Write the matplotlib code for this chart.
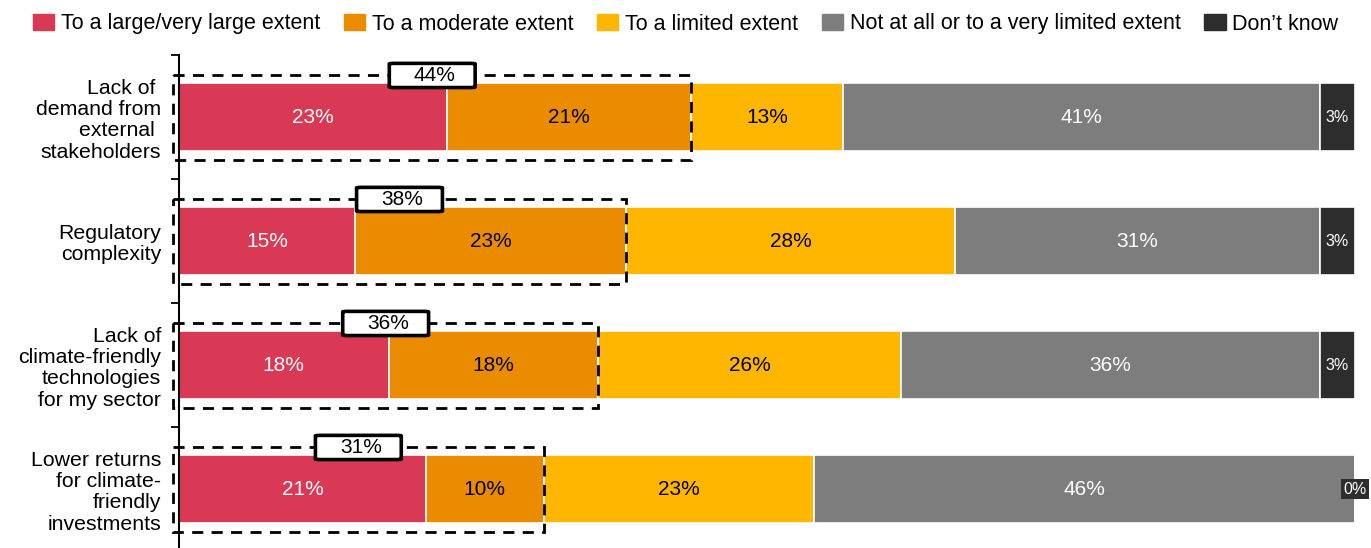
import matplotlib
matplotlib.use('Agg')
import matplotlib.pyplot as plt
from matplotlib.patches import Patch, Rectangle, FancyBboxPatch
import numpy as np

####################
# Data

categories = ['Lack of \ndemand from\nexternal \nstakeholders',
              'Regulatory\ncomplexity',
              'Lack of\nclimate-friendly\ntechnologies\nfor my sector',
              'Lower returns\nfor climate-\nfriendly\ninvestments']
series = ['To a large/very large extent', 'To a moderate extent',
          'To a limited extent', 'Not at all or to a very limited extent',
          'Don\u2019t know']
large    = [23, 15, 18, 21]
moderate = [21, 23, 18, 10]
limited  = [13, 28, 26, 23]
notatall = [41, 31, 36, 46]
dontknow = [3, 3, 3, 0]
combined = [44, 38, 36, 31]

colors = ['#D93954', '#EB8C00', '#FFB600', '#7D7D7D', '#2D2D2D']
txtcol = ['white', 'black', 'black', 'white', 'white']

plt.rcParams['font.family'] = ['Liberation Sans', 'DejaVu Sans']

####################
# Plot

W, H = 1371, 548
fig = plt.figure(figsize=(W / 100, H / 100), dpi=100)
ax = fig.add_axes([179 / W, 0, 1176 / W, 493 / H])

vals = np.array([large, moderate, limited, notatall, dontknow], dtype=float)
totals = vals.sum(axis=0)
shares = vals / totals * 100
y = np.arange(len(categories))

left = np.zeros(len(categories))
for i in range(len(series)):
    ax.barh(y, shares[i], left=left, height=0.55, color=colors[i],
            edgecolor='white', linewidth=1.2, label=series[i])
    for j in range(len(categories)):
        v = int(vals[i, j])
        cx = left[j] + shares[i, j] / 2
        if i < 4:
            ax.text(cx, y[j], '%d%%' % v, ha='center', va='center',
                    color=txtcol[i], fontsize=15)
        elif v > 0:
            ax.text(cx, y[j], '%d%%' % v, ha='center', va='center',
                    color='white', fontsize=11.5)
        else:
            ax.text(left[j] + shares[i, j], y[j], '%d%%' % v, ha='center',
                    va='center', color='white', fontsize=11.5, clip_on=False,
                    bbox=dict(boxstyle='square,pad=0.15', fc=colors[i], ec='none'))
    left += shares[i]

# dashed boxes round the first two segments + combined label
for j in range(len(categories)):
    x0 = -0.5
    x1 = shares[0, j] + shares[1, j]
    ax.add_patch(Rectangle((x0, y[j] - 0.335), x1 - x0, 0.685, fill=False,
                           ec='black', lw=2, ls=(0, (4, 3)), clip_on=False,
                           zorder=4))
    cx = (x0 + x1) / 2
    bw, bh = 7.3, 0.195
    ax.add_patch(FancyBboxPatch((cx - bw / 2, y[j] - 0.335 - bh / 2), bw, bh,
                                boxstyle='round,pad=0,rounding_size=0.45',
                                mutation_aspect=0.01,
                                fc='white', ec='black', lw=2.6, zorder=5,
                                clip_on=False))
    ax.text(cx + 0.2, y[j] - 0.335, '%d%%' % combined[j], ha='center',
            va='center', fontsize=15, zorder=6)

ax.set_xlim(0, 100)
ax.set_ylim(-0.5 + 493 / 124, -0.5)
ax.set_yticks(y)
ax.set_yticklabels(categories, fontsize=15.3, linespacing=1.15)
ax.set_yticks(np.arange(len(categories)) - 0.5, minor=True)
ax.tick_params(axis='y', which='major', length=0, pad=13)
ax.tick_params(axis='y', which='minor', length=6, width=1.3, direction='out')
ax.set_xticks([])
for s in ['top', 'right', 'bottom']:
    ax.spines[s].set_visible(False)
ax.spines['left'].set_linewidth(1.5)

handles = [Patch(color=c) for c in colors]
fig.legend(handles, series, loc='center', bbox_to_anchor=(0.5, 1 - 24 / H),
           ncol=5, frameon=False, fontsize=15.5, handlelength=1.0,
           handleheight=0.8, handletextpad=0.3, columnspacing=1.1,
           borderaxespad=0)

fig.savefig('out.png', dpi=100)
